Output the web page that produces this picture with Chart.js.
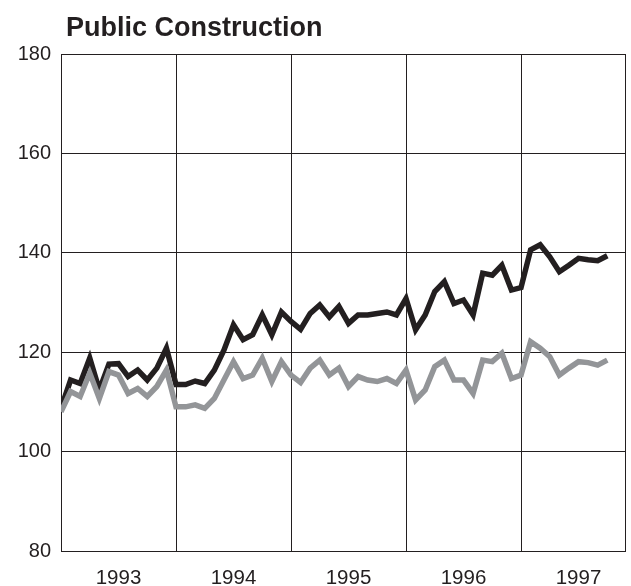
<!DOCTYPE html>
<html>
<head>
<meta charset="utf-8">
<script src="https://cdn.jsdelivr.net/npm/chart.js@4.4.0/dist/chart.umd.min.js"></script>
<style>
html,body{margin:0;padding:0;background:#fff;}
#wrap{width:631px;height:586px;position:relative;}
</style>
</head>
<body>
<div id="wrap"><canvas id="c" width="631" height="586"></canvas></div>
<script>
const title = "Public Construction";
const years = ["1993","1994","1995","1996","1997"];
const yTicks = [80,100,120,140,160,180];
// monthly values, Jan 1993 - Oct 1997
const seriesBlack = [108.7,114.4,113.7,118.8,112.4,117.6,117.7,115.1,116.4,114.4,116.8,120.8,
  113.5,113.5,114.2,113.7,116.4,120.4,125.5,122.5,123.5,127.5,123.5,128.1,
  126.2,124.6,127.8,129.5,127.1,129.2,125.8,127.5,127.5,127.8,128.1,127.5,
  130.8,124.5,127.5,132.2,134.2,129.8,130.5,127.5,135.9,135.5,137.5,132.5,
  133.0,140.6,141.6,139.2,136.2,137.5,138.9,138.6,138.4,139.4];
const seriesGray = [108.0,112.1,111.1,115.8,110.7,116.1,115.4,111.7,112.7,111.1,113.1,116.4,
  109.0,109.0,109.4,108.7,110.7,114.4,118.1,114.7,115.4,118.8,114.1,118.1,
  115.4,113.9,116.8,118.4,115.4,116.8,113.1,115.1,114.4,114.1,114.7,113.7,
  116.4,110.4,112.4,117.1,118.4,114.4,114.4,111.7,118.4,118.1,119.8,114.7,
  115.4,122.1,120.8,119.1,115.4,116.8,118.1,117.9,117.4,118.4];

const ink = '#231f20';
const toPts = arr => arr.map((v,i)=>({x:i,y:v}));

const frame = {
  id:'frame',
  beforeDatasetsDraw(chart){
    const {ctx, chartArea:a} = chart;
    ctx.save();
    ctx.strokeStyle = ink; ctx.lineWidth = 1;
    ctx.strokeRect(Math.round(a.left)+0.5, Math.round(a.top)+0.5, Math.round(a.right-a.left), Math.round(a.bottom-a.top));
    ctx.restore();
  },
  afterDraw(chart){
    const ctx = chart.ctx;
    ctx.save();
    ctx.fillStyle = ink;
    ctx.font = 'bold 27px "Liberation Sans", Arial, sans-serif';
    ctx.textBaseline = 'alphabetic';
    ctx.fillText(title, 66, 36);
    ctx.restore();
  }
};

new Chart(document.getElementById('c'), {
  type:'line',
  data:{datasets:[
    {data:toPts(seriesGray), borderColor:'#939598', borderWidth:5.5, pointRadius:0, tension:0, fill:false, borderJoinStyle:'miter'},
    {data:toPts(seriesBlack), borderColor:ink, borderWidth:5.5, pointRadius:0, tension:0, fill:false, borderJoinStyle:'miter'}
  ]},
  options:{
    responsive:false, animation:false, events:[],
    layout:{padding:{left:0,right:6,top:54,bottom:0}},
    plugins:{legend:{display:false}, tooltip:{enabled:false}, title:{display:false}},
    scales:{
      x:{type:'linear', min:0, max:58.85,
        afterBuildTicks(s){ s.ticks = [0,6,12,18,24,30,36,42,48,54].map(v=>({value:v})); },
        afterFit(s){ s.height = 35; },
        grid:{drawTicks:false, color:c=> (c.tick && c.tick.value%12===0 && c.tick.value>0) ? ink : 'rgba(0,0,0,0)', lineWidth:1},
        border:{display:false},
        ticks:{autoSkip:false, maxRotation:0, padding:15, color:ink,
          font:{family:'"Liberation Sans", Arial, sans-serif', size:20.5},
          callback:v=> (v%12===6) ? years[(v-6)/12] : ''}
      },
      y:{min:80, max:180,
        afterBuildTicks(s){ s.ticks = yTicks.map(v=>({value:v})); },
        afterFit(s){ s.width = 61; },
        grid:{drawTicks:false, color:ink, lineWidth:1},
        border:{display:false},
        ticks:{padding:10, color:ink, font:{family:'"Liberation Sans", Arial, sans-serif', size:20}}
      }
    }
  },
  plugins:[frame]
});
</script>
</body>
</html>
